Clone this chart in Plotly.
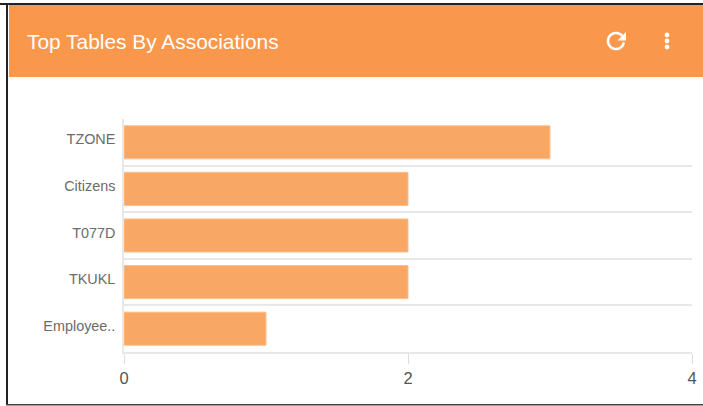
import numpy as np
import plotly.graph_objects as go

categories = ["TZONE", "Citizens", "T077D", "TKUKL", "Employee.."]
associations = [3, 2, 2, 2, 1]
title_text = "Top Tables By Associations"
x_ticks = [0, 2, 4]

W, H = 703, 406
L, R, T, B = 124, 692, 119, 352
ORANGE = "#f9984c"
BAR = "#f9a764"
GRID = "#e8e8e8"
DARK = "#222222"


def px(x):
    return (x - L) / (R - L)


def py(y):
    return (B - y) / (B - T)


def rect(x0, y0, x1, y1, color):
    return dict(type="rect", xref="paper", yref="paper", x0=px(x0), x1=px(x1),
                y0=py(y0), y1=py(y1), fillcolor=color, line_width=0, layer="below")


def path(points, close=False, fill=None, width=0, color="white"):
    d = "M " + " L ".join(f"{px(a):.5f},{py(b):.5f}" for a, b in points)
    if close:
        d += " Z"
    return dict(type="path", xref="paper", yref="paper", path=d,
                fillcolor=fill if fill else "rgba(0,0,0,0)",
                line=dict(color=color, width=width), layer="above")


angles = np.radians(np.linspace(-40, -350, 40))
arc = [(616 + 8 * np.cos(a), 41 + 8 * np.sin(a)) for a in angles]

shapes = [
    rect(0, 0, W, 406, "white"),
    rect(9, 5, 703, 77, ORANGE),
    rect(0, 3, 703, 5, DARK),
    rect(6, 3, 8, 405, DARK),
    rect(6, 404, 703, 405.5, "#444444"),
    path(arc, width=2.6),
    path([(626, 32), (626, 40.5), (617.5, 40.5)], close=True, fill="white"),
]
for cy in (35, 41, 47):
    shapes.append(dict(type="circle", xref="paper", yref="paper",
                       x0=px(664.6), x1=px(669.4), y0=py(cy + 2.4), y1=py(cy - 2.4),
                       fillcolor="white", line_width=0, layer="above"))

fig = go.Figure(go.Bar(
    y=categories,
    x=associations,
    orientation="h",
    marker=dict(color=BAR, line=dict(color="#fbbf8c", width=1)),
    hoverinfo="skip",
))

fig.update_layout(
    width=W,
    height=H,
    margin=dict(l=L, r=W - R, t=T, b=H - B, pad=0),
    paper_bgcolor="white",
    plot_bgcolor="rgba(0,0,0,0)",
    bargap=0.29,
    showlegend=False,
    font=dict(family="Liberation Sans, Arial, sans-serif"),
    shapes=shapes,
    annotations=[dict(
        text=title_text, xref="paper", yref="paper", x=px(24.7), y=py(41.5),
        xanchor="left", yanchor="middle", showarrow=False,
        font=dict(size=20.9, color="white", family="Liberation Sans, Arial, sans-serif"),
    )],
    xaxis=dict(
        automargin=False,
        range=[0, 4], tickmode="array", tickvals=x_ticks, ticktext=[str(v) for v in x_ticks],
        ticks="outside", ticklen=10, tickwidth=1, tickcolor="#dddddd",
        showgrid=False, zeroline=False, showline=True, linecolor=GRID, linewidth=2,
        tickfont=dict(size=16.5, color="#555555"),
        fixedrange=True,
    ),
    yaxis=dict(
        automargin=False,
        type="category", categoryorder="array", categoryarray=categories,
        autorange="reversed", tickson="boundaries",
        ticks="outside", ticklen=5, tickcolor="rgba(0,0,0,0)",
        ticklabelshift=3, ticklabelstandoff=4,
        showgrid=True, gridcolor=GRID, gridwidth=2,
        showline=True, linecolor=GRID, linewidth=1.5, zeroline=False,
        tickfont=dict(size=14.4, color="#6b6b6b"),
        fixedrange=True,
    ),
)

fig.write_html(
    "out.html",
    config={"displayModeBar": False},
    post_script="document.body.style.margin='0';document.body.style.overflow='hidden';",
)
